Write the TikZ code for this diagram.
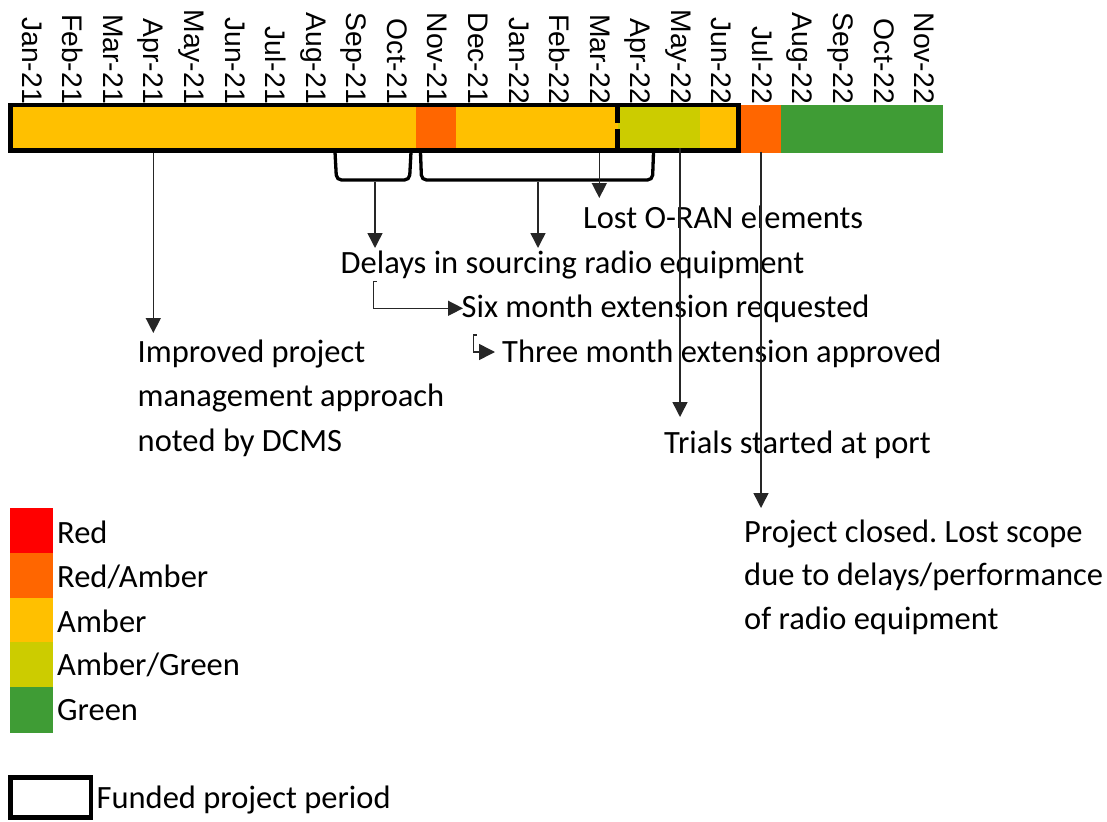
\documentclass[tikz,border=0pt]{standalone}
\usepackage{fontspec}
\setmainfont{Carlito}
\newfontfamily\monthfont{Liberation Sans}
\usetikzlibrary{arrows.meta}
\definecolor{amb}{HTML}{FFC000}
\definecolor{redamb}{HTML}{FF6600}
\definecolor{ambgrn}{HTML}{CCCC00}
\definecolor{grn}{HTML}{3F9C35}
\definecolor{rd}{HTML}{FF0000}
\frenchspacing
\begin{document}
\begin{tikzpicture}[x=1pt,y=-1pt,
  month/.style={font=\monthfont\fontsize{28.3}{30}\selectfont, rotate=-90, anchor=base east, inner sep=0pt},
  lbl/.style={font=\fontsize{32.5}{40}\selectfont, anchor=base west, inner sep=0pt},
  arr/.style={line width=1.5pt, draw=black!85, -{Triangle[length=15pt,width=15pt]}},
  bracketline/.style={line width=3.3pt, rounded corners=5pt},
  swatch/.style={inner sep=0pt, minimum width=43pt, minimum height=45pt, anchor=north west}
]
\useasboundingbox (0,0) rectangle (1107,821);
% status bar cells
\foreach \i/\c in {0/amb,1/amb,2/amb,3/amb,4/amb,5/amb,6/amb,7/amb,8/amb,9/amb,
  10/redamb,11/amb,12/amb,13/amb,14/amb,15/ambgrn,16/ambgrn,17/amb,18/redamb,
  19/grn,20/grn,21/grn,22/grn}
  \fill[\c] (10+40.56*\i,105.5) rectangle ++(40.62,47.2);
% month labels
\foreach \m [count=\i from 0] in {Jan-21,Feb-21,Mar-21,Apr-21,May-21,Jun-21,Jul-21,Aug-21,Sep-21,Oct-21,Nov-21,Dec-21,Jan-22,Feb-22,Mar-22,Apr-22,May-22,Jun-22,Jul-22,Aug-22,Sep-22,Oct-22,Nov-22}
  \node[month] (m\i) at (22.3+40.56*\i,104) {\m};
% funded project border
\draw[line width=4.4pt] (10.5,105.3) rectangle (738.5,150.5);
\draw[line width=4.3pt] (617.5,105) -- (617.5,123.3) (617.5,129) -- (617.5,150.5);
% brackets
\draw[bracketline] (335,152) -- (336.5,180) -- (409.5,180) -- (411,152);
\draw[bracketline] (420.5,152) -- (421.5,180) -- (652.5,180) -- (653.5,152);
\coordinate (br1) at (375,181.5);
\coordinate (br2) at (538,181.5);
% text labels
\node[lbl] (lost) at (583,228) {Lost O-RAN elements};
\node[lbl] (delays) at (340.5,273) {Delays in sourcing radio equipment};
\node[lbl] (six) at (461.5,317) {Six month extension requested};
\node[lbl] (three) at (502,362) {Three month extension approved};
\node[lbl] (imp1) at (137.5,362) {Improved project};
\node[lbl] (imp2) at (137.5,406.5) {management approach};
\node[lbl] (imp3) at (137.5,451) {noted by DCMS};
\node[lbl] (trials) at (664,453) {Trials started at port};
\node[lbl] (pc1) at (744,542) {Project closed. Lost scope};
\node[lbl] (pc2) at (744,585.5) {due to delays/performance};
\node[lbl] (pc3) at (744,629) {of radio equipment};
% connector points
\coordinate (sImp) at (153.3,152.7);  \coordinate (tImp) at (153.3,333);
\coordinate (tD1) at (375,248);       \coordinate (tD2) at (538,248);
\coordinate (sLost) at (599.3,153);   \coordinate (tLost) at (599.3,198);
\coordinate (sTr) at (680,148);       \coordinate (tTr) at (680,417);
\coordinate (sPC) at (761,152);       \coordinate (tPC) at (761,508);
\coordinate (e1s) at (376.5,281.7);   \coordinate (e1c) at (373.3,308.3);
\coordinate (e1t) at (463,308.3);
\coordinate (e2s) at (476.5,335);     \coordinate (e2c) at (473.3,352);
\coordinate (e2t) at (495,352);
% connectors
\draw[arr] (sImp) -- (tImp);
\draw[arr] (br1) -- (tD1);
\draw[arr] (br2) -- (tD2);
\draw[arr] (sLost) -- (tLost);
\draw[arr] (sTr) -- (tTr);
\draw[arr] (sPC) -- (tPC);
\draw[arr] (e1s) -- (e1c |- e1s) -- (e1c) -- (e1t);
\draw[arr,-{Triangle[length=16pt,width=16pt]}] (e2s) -- (e2c |- e2s) -- (e2c) -- (e2t);
% legend
\node[swatch,fill=rd] (kR) at (10,508) {};
\node[swatch,fill=redamb] (kRA) at (10,553) {};
\node[swatch,fill=amb] (kA) at (10,597.5) {};
\node[swatch,fill=ambgrn] (kAG) at (10,642) {};
\node[swatch,fill=grn,minimum height=46pt] (kG) at (10,687) {};
\node[lbl] (lR) at (57,543) {Red};
\node[lbl] (lRA) at (57,587) {Red/Amber};
\node[lbl] (lA) at (57,632) {Amber};
\node[lbl] (lAG) at (57,675.5) {Amber/Green};
\node[lbl] (lG) at (57,720) {Green};
\draw[line width=4.7pt] (10.6,777.3) rectangle (91,817.7);
\node[lbl] (lF) at (96.5,808) {Funded project period};
\end{tikzpicture}
\end{document}
